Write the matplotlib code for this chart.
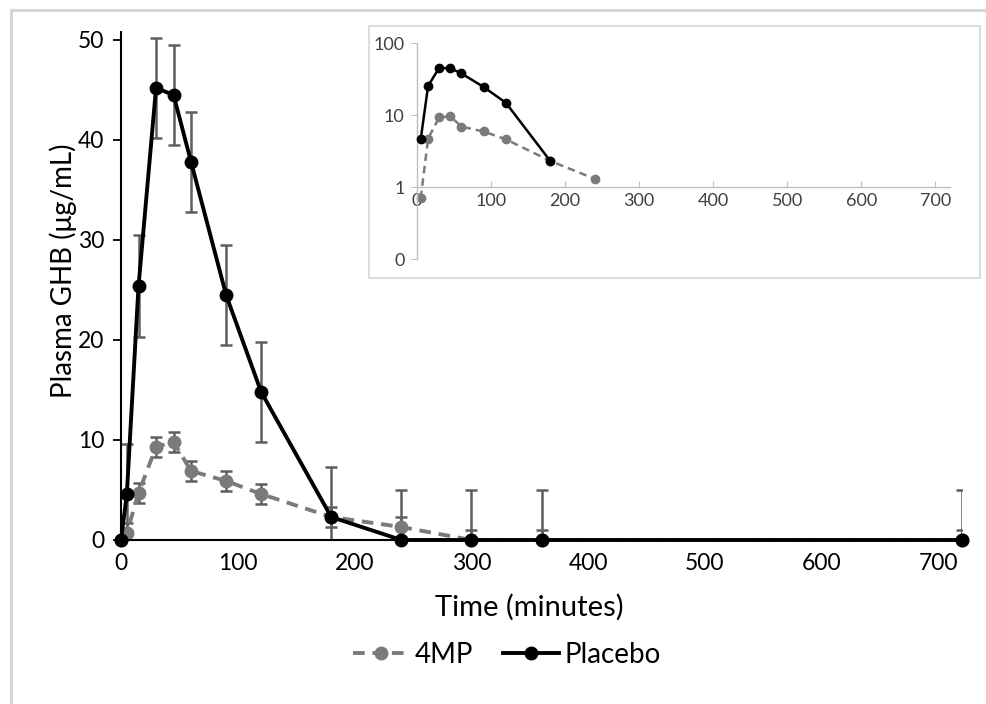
import matplotlib
matplotlib.use('Agg')
import matplotlib.pyplot as plt
from matplotlib.lines import Line2D
from matplotlib.patches import Rectangle
from matplotlib.ticker import FixedLocator, FixedFormatter

plt.rcParams['font.family'] = ['Lato', 'DejaVu Sans']

# ── DATOS ──────────────────────────────────────────────────────────────────────
tiempo      = [0, 5, 15, 30, 45, 60, 90, 120, 180, 240, 300, 360, 720]
placebo     = [0, 4.6, 25.4, 45.2, 44.5, 37.8, 24.5, 14.8, 2.3, 0, 0, 0, 0]
placebo_sd  = [0, 5, 5.1, 5, 5, 5, 5, 5, 5, 5, 5, 5, 5]
mp4         = [0, 0.7, 4.7, 9.3, 9.8, 6.9, 5.9, 4.6, 2.3, 1.3, 0, 0, 0]
mp4_sd      = [0, 1, 1, 1, 1, 1, 1, 1, 1, 1, 1, 1, 1]

# inserto logarítmico (sin ceros)
tiempo_log_pl = [5, 15, 30, 45, 60, 90, 120, 180]
placebo_log   = [4.6, 25.4, 45.2, 44.5, 37.8, 24.5, 14.8, 2.3]
tiempo_log_mp = [5, 15, 30, 45, 60, 90, 120, 180, 240]
mp4_log       = [0.7, 4.7, 9.3, 9.6, 6.9, 5.9, 4.6, 2.3, 1.3]

NEGRO = '#000000'
GRIS  = '#7a7a7a'
GRIS_ERR = '#5e5e5e'

fig = plt.figure(figsize=(9.86, 7.04), dpi=100)

# borde exterior (recorte de Excel)
fig.patches.append(Rectangle((11/986, -0.05), 1.1, 1 - 10/704 + 0.05,
                             transform=fig.transFigure, fill=False,
                             edgecolor='#d6d6d6', linewidth=2.2, zorder=0))

# ── GRÁFICO PRINCIPAL ─────────────────────────────────────────────────────────
ax = fig.add_axes([121/986, (704-540)/704, 841/986, (540-32)/704])
ax.errorbar(tiempo, placebo, yerr=placebo_sd, fmt='none', ecolor=GRIS_ERR,
            elinewidth=1.8, capsize=4.5, capthick=1.8, zorder=1)
ax.errorbar(tiempo, mp4, yerr=mp4_sd, fmt='none', ecolor=GRIS_ERR,
            elinewidth=1.8, capsize=4.5, capthick=1.8, zorder=1)
ax.plot(tiempo, mp4, color=GRIS, linestyle=(0, (3, 2)), linewidth=2.8,
        marker='o', markersize=9, clip_on=False, zorder=2)
ax.plot(tiempo, placebo, color=NEGRO, linewidth=2.8,
        marker='o', markersize=9, clip_on=False, zorder=3)

ax.set_xlim(0, 720)
ax.set_ylim(0, 50.8)
ax.set_xticks([0, 100, 200, 300, 400, 500, 600, 700])
ax.set_yticks([0, 10, 20, 30, 40, 50])
ax.tick_params(axis='x', length=0, pad=9, labelsize=16.5)
ax.tick_params(axis='y', length=6, width=1.3, direction='out', pad=6, labelsize=16.5)
for s in ['top', 'right']:
    ax.spines[s].set_visible(False)
for s in ['left', 'bottom']:
    ax.spines[s].set_linewidth(1.5)
ax.set_xlabel('Time (minutes)', fontsize=21)
ax.set_ylabel('Plasma GHB (μg/mL)', fontsize=20)
ax.xaxis.set_label_coords(0.486, -0.106)
ax.yaxis.set_label_coords(-0.052, 0.531)

# ── INSERTO ────────────────────────────────────────────────────────────────────
fig.patches.append(Rectangle((369/986, (704-278)/704), 611/986, 252/704,
                             transform=fig.transFigure, facecolor='white',
                             edgecolor='#d6d6d6', linewidth=1.2, zorder=1))
axi = fig.add_axes([417/986, (704-259)/704, 533/986, (259-43)/704], zorder=2)
axi.patch.set_alpha(0)
axi.set_yscale('log')
axi.plot(tiempo_log_mp, mp4_log, color=GRIS, linestyle=(0, (3, 2)), linewidth=1.8,
         marker='o', markersize=6, clip_on=False, zorder=2)
axi.plot(tiempo_log_pl, placebo_log, color=NEGRO, linewidth=1.8,
         marker='o', markersize=6, clip_on=False, zorder=3)
axi.set_xlim(0, 720)
axi.set_ylim(0.1, 100)
axi.yaxis.set_major_locator(FixedLocator([0.1, 1, 10, 100]))
axi.yaxis.set_major_formatter(FixedFormatter(['0', '1', '10', '100']))
axi.yaxis.set_minor_locator(FixedLocator([]))
axi.set_xticks([0, 100, 200, 300, 400, 500, 600, 700])
axi.spines['bottom'].set_position(('data', 1))
for s in ['top', 'right']:
    axi.spines[s].set_visible(False)
for s in ['left', 'bottom']:
    axi.spines[s].set_color('#bfbfbf')
    axi.spines[s].set_linewidth(1.0)
axi.tick_params(axis='x', direction='in', length=4, color='#bfbfbf',
                labelsize=13, labelcolor='#404040', pad=4)
axi.tick_params(axis='y', direction='out', length=4, color='#bfbfbf',
                labelsize=13, labelcolor='#404040', pad=5)

# ── LEYENDA ────────────────────────────────────────────────────────────────────
handles = [
    Line2D([], [], color=GRIS, linestyle=(0, (3, 2)), linewidth=2.8,
           marker='o', markersize=9),
    Line2D([], [], color=NEGRO, linewidth=2.8, marker='o', markersize=9),
]
fig.legend(handles, ['4MP', 'Placebo'], loc='center', bbox_to_anchor=(507/986, 1 - 655/704),
           ncol=2, frameon=False, fontsize=20, handlelength=2.0,
           handletextpad=0.2, columnspacing=1.1)

fig.savefig('out.png', dpi=100)
